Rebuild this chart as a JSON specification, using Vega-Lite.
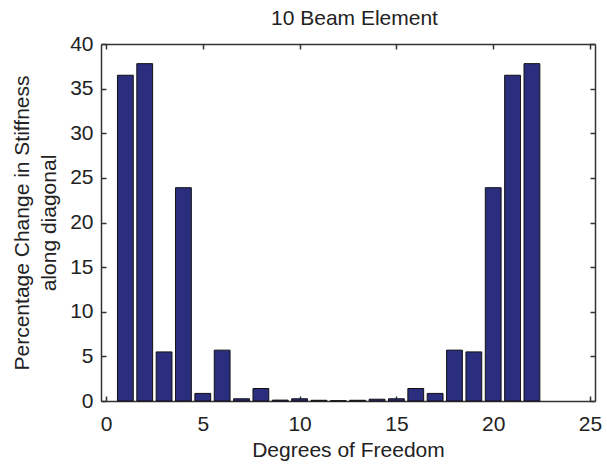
{
  "$schema": "https://vega.github.io/schema/vega-lite/v6.json",
  "autosize": "none",
  "width": 494,
  "height": 357,
  "padding": {"left": 101, "top": 44, "right": 12, "bottom": 63},
  "background": "white",
  "data": {
    "values": [
      {"dof": 1, "pct": 36.5},
      {"dof": 2, "pct": 37.8},
      {"dof": 3, "pct": 5.5},
      {"dof": 4, "pct": 23.9},
      {"dof": 5, "pct": 0.85},
      {"dof": 6, "pct": 5.7},
      {"dof": 7, "pct": 0.25},
      {"dof": 8, "pct": 1.4},
      {"dof": 9, "pct": 0.1},
      {"dof": 10, "pct": 0.25},
      {"dof": 11, "pct": 0.08},
      {"dof": 12, "pct": 0.03},
      {"dof": 13, "pct": 0.08},
      {"dof": 14, "pct": 0.2},
      {"dof": 15, "pct": 0.25},
      {"dof": 16, "pct": 1.4},
      {"dof": 17, "pct": 0.85},
      {"dof": 18, "pct": 5.7},
      {"dof": 19, "pct": 5.5},
      {"dof": 20, "pct": 23.9},
      {"dof": 21, "pct": 36.5},
      {"dof": 22, "pct": 37.8}
    ]
  },
  "layer": [
    {
      "mark": {"type": "bar", "size": 15.8, "color": "#2b2e7e", "stroke": "#111111", "strokeWidth": 1},
      "encoding": {
        "x": {
          "field": "dof", "type": "quantitative",
          "scale": {"domain": [0, 25], "nice": false, "zero": false},
          "axis": {
            "orient": "bottom",
            "values": [0, 5, 10, 15, 20, 25],
            "title": "Degrees of Freedom",
            "titleFontSize": 21,
            "titleY": 38,
            "titleBaseline": "top",
            "labelPadding": 17,
            "labelFlush": false
          }
        },
        "y": {
          "field": "pct", "type": "quantitative",
          "scale": {"domain": [0, 40], "nice": false},
          "axis": {
            "orient": "left",
            "values": [0, 5, 10, 15, 20, 25, 30, 35, 40],
            "title": ["Percentage Change in Stiffness", "along diagonal"],
            "titleFontSize": 21,
            "titleAngle": -90,
            "titleBaseline": "alphabetic",
            "titleLineHeight": 27,
            "titleX": -73,
            "titleAlign": "center",
            "labelPadding": 13,
            "labelFlush": false
          }
        }
      }
    },
    {
      "mark": {"type": "point", "opacity": 0},
      "encoding": {
        "x": {
          "field": "dof", "type": "quantitative",
          "axis": {
            "orient": "top",
            "values": [0, 5, 10, 15, 20, 25],
            "labels": false,
            "title": "10 Beam Element",
            "titleFontSize": 21,
            "titleBaseline": "alphabetic",
            "titleAlign": "center",
            "titleX": 253,
            "titleY": -20
          }
        },
        "y": {
          "field": "pct", "type": "quantitative",
          "axis": {"orient": "right", "values": [0, 5, 10, 15, 20, 25, 30, 35, 40], "labels": false, "title": null}
        }
      }
    }
  ],
  "resolve": {"axis": {"x": "independent", "y": "independent"}},
  "config": {
    "view": {"stroke": null},
    "axis": {
      "grid": false,
      "labelFont": "Liberation Sans",
      "labelFontSize": 21,
      "labelColor": "#222222",
      "titleFont": "Liberation Sans",
      "titleFontWeight": "normal",
      "titleColor": "#222222",
      "domainColor": "#333333",
      "domainWidth": 1.5,
      "tickColor": "#333333",
      "tickWidth": 1.5,
      "tickSize": -5
    }
  }
}
